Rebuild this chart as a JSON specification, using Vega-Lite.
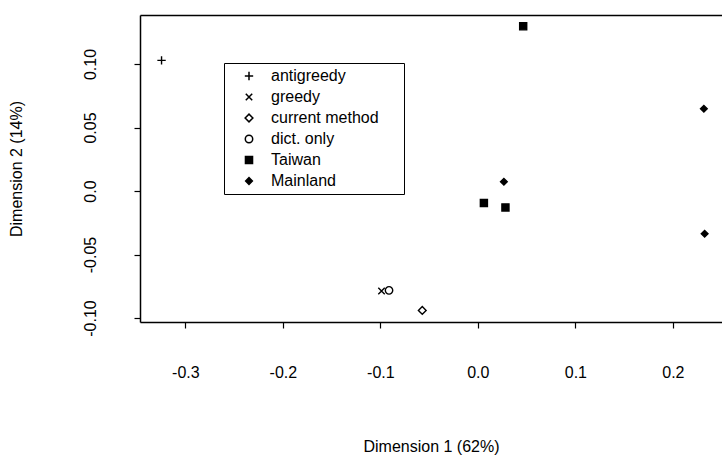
{
  "$schema": "https://vega.github.io/schema/vega-lite/v6.json",
  "width": 582,
  "height": 307,
  "autosize": {"type": "none"},
  "padding": {"left": 140, "top": 15, "right": 0, "bottom": 134},
  "background": "white",
  "config": {
    "view": {"stroke": null},
    "font": "Liberation Sans",
    "axis": {
      "domainColor": "black", "domainWidth": 1.5,
      "tickColor": "black", "tickWidth": 1.2, "tickSize": 6,
      "labelColor": "black", "labelFont": "Liberation Sans", "labelFontSize": 16,
      "titleColor": "black", "titleFont": "Liberation Sans", "titleFontSize": 16, "titleFontWeight": "normal",
      "grid": false
    },
    "legend": {
      "strokeColor": "black", "padding": 5, "rowPadding": 5,
      "labelFontSize": 16, "labelColor": "black", "labelFont": "Liberation Sans",
      "symbolOffset": 12, "labelOffset": 14,
      "titleOrient": "right", "titleColor": "transparent", "titleFontSize": 2, "titlePadding": 19
    }
  },
  "data": {
    "values": [
      {"x": -0.3244, "y": 0.1029, "method": "antigreedy"},
      {"x": -0.0988, "y": -0.0787, "method": "greedy"},
      {"x": -0.0570, "y": -0.0940, "method": "current method"},
      {"x": -0.0911, "y": -0.0782, "method": "dict. only"},
      {"x": 0.0465, "y": 0.1297, "method": "Taiwan"},
      {"x": 0.0062, "y": -0.0094, "method": "Taiwan"},
      {"x": 0.0283, "y": -0.0129, "method": "Taiwan"},
      {"x": 0.2318, "y": 0.0648, "method": "Mainland"},
      {"x": 0.0267, "y": 0.0073, "method": "Mainland"},
      {"x": 0.2326, "y": -0.0336, "method": "Mainland"}
    ]
  },
  "resolve": {"axis": {"x": "independent"}},
  "layer": [
    {
      "mark": {"type": "point", "stroke": "black", "strokeWidth": 1.4, "opacity": 1},
      "encoding": {
        "x": {
          "field": "x", "type": "quantitative",
          "scale": {"domain": [-0.3465, 0.2504], "nice": false, "zero": false},
          "axis": {
            "orient": "bottom", "values": [-0.3, -0.2, -0.1, 0.0, 0.1, 0.2],
            "labelExpr": "replace(format(datum.value, '.1f'), '\u2212', '-')",
            "labelPadding": 36, "labelFlush": false,
            "title": "Dimension 1 (62%)", "titlePadding": 58
          }
        },
        "y": {
          "field": "y", "type": "quantitative",
          "scale": {"domain": [-0.1031, 0.1386], "nice": false, "zero": false},
          "axis": {
            "orient": "left", "values": [-0.1, -0.05, 0.0, 0.05, 0.1],
            "labelExpr": "datum.value == 0 ? '0.0' : replace(format(datum.value, '.2f'), '\u2212', '-')",
            "labelAngle": 270, "labelAlign": "center", "labelBaseline": "bottom",
            "labelPadding": 36, "labelFlush": false,
            "title": "Dimension 2 (14%)", "titlePadding": 58
          }
        },
        "shape": {
          "field": "method", "type": "nominal",
          "scale": {
            "domain": ["antigreedy", "greedy", "current method", "dict. only", "Taiwan", "Mainland"],
            "range": ["M-1,0H1M0,-1V1", "M-0.8,-0.8L0.8,0.8M-0.8,0.8L0.8,-0.8", "diamond", "circle", "square", "diamond"]
          },
          "legend": {
            "title": ".", "orient": "none", "legendX": 84, "legendY": 48,
            "encode": {"symbols": {"update": {"stroke": {"value": "black"}, "strokeWidth": {"value": 1.4}}}}
          }
        },
        "fill": {
          "field": "method", "type": "nominal",
          "scale": {
            "domain": ["antigreedy", "greedy", "current method", "dict. only", "Taiwan", "Mainland"],
            "range": ["transparent", "transparent", "white", "white", "black", "black"]
          },
          "legend": {
            "title": ".", "orient": "none", "legendX": 84, "legendY": 48,
            "encode": {"symbols": {"update": {"stroke": {"value": "black"}, "strokeWidth": {"value": 1.4}}}}
          }
        },
        "size": {
          "field": "method", "type": "nominal",
          "scale": {
            "domain": ["antigreedy", "greedy", "current method", "dict. only", "Taiwan", "Mainland"],
            "range": [70, 45, 34, 36, 48, 48]
          },
          "legend": {
            "title": ".", "orient": "none", "legendX": 84, "legendY": 48,
            "encode": {"symbols": {"update": {"stroke": {"value": "black"}, "strokeWidth": {"value": 1.4}}}}
          }
        }
      }
    },
    {
      "mark": {"type": "point", "opacity": 0},
      "encoding": {
        "x": {
          "field": "x", "type": "quantitative",
          "axis": {"orient": "top", "labels": false, "ticks": false, "title": null}
        }
      }
    }
  ]
}
